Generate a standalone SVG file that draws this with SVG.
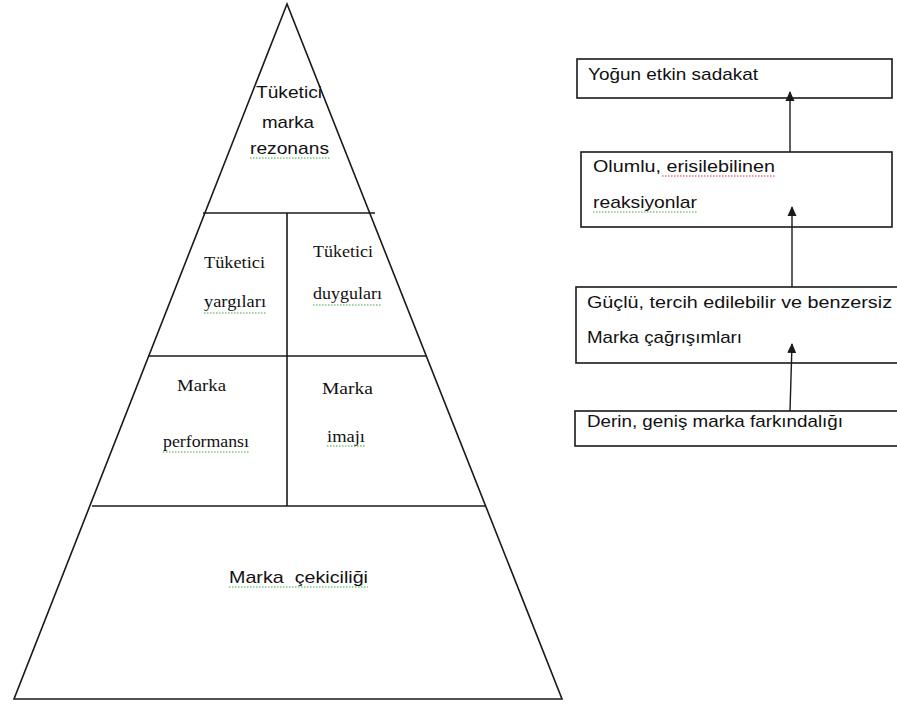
<svg xmlns="http://www.w3.org/2000/svg" width="897" height="704" viewBox="0 0 897 704">
  <style>
    .edge { fill: none; stroke: #1a1a1a; stroke-width: 1.6; }
    .box { fill: #ffffff; stroke: #1a1a1a; stroke-width: 1.6; }
    .sans { font-family: "Liberation Sans", Arial, sans-serif; fill: #111111; font-size: 17px; }
    .serif { font-family: "Liberation Serif", "Times New Roman", serif; fill: #111111; font-size: 17px; }
    .wavy-g { fill: none; stroke: #3aa63a; stroke-width: 1.2; stroke-dasharray: 1.5 1.5; }
    .wavy-r { fill: none; stroke: #e03030; stroke-width: 1.2; stroke-dasharray: 1.5 1.5; }
    .link { fill: none; stroke: #1a1a1a; stroke-width: 1.4; }
  </style>
  <defs>
    <marker id="arrow" viewBox="0 0 10 10" refX="9" refY="5" markerWidth="10" markerHeight="10" markerUnits="userSpaceOnUse" orient="auto">
      <path d="M0,0.5 L10,5 L0,9.5 Z" fill="#1a1a1a"/>
    </marker>
  </defs>
  <rect width="897" height="704" fill="#ffffff"/>

  <!-- Pyramid outline and tiers -->
  <g id="pyramid">
    <path class="edge" d="M287,4 L14,699 L562,699 Z"/>
    <line class="edge" x1="203" y1="213" x2="375" y2="213"/>
    <line class="edge" x1="148" y1="356" x2="427" y2="356"/>
    <line class="edge" x1="92" y1="506" x2="485" y2="506"/>
    <line class="edge" x1="287" y1="213" x2="287" y2="506"/>
  </g>

  <g id="tier-resonance">
    <text class="sans" x="256" y="98" textLength="66" lengthAdjust="spacingAndGlyphs">Tüketici</text>
    <text class="sans" x="262" y="128" textLength="52" lengthAdjust="spacingAndGlyphs">marka</text>
    <text class="sans" x="250" y="154" textLength="79" lengthAdjust="spacingAndGlyphs">rezonans</text>
    <path class="wavy-g" d="M250,158 L330,158"/>
  </g>

  <g id="tier-judgements">
    <text class="serif" x="204" y="268" textLength="61" lengthAdjust="spacingAndGlyphs">Tüketici</text>
    <text class="serif" x="204" y="307" textLength="62" lengthAdjust="spacingAndGlyphs">yargıları</text>
    <path class="wavy-g" d="M204,313 L266,313"/>
  </g>

  <g id="tier-feelings">
    <text class="serif" x="313" y="257" textLength="60" lengthAdjust="spacingAndGlyphs">Tüketici</text>
    <text class="serif" x="313" y="299" textLength="69" lengthAdjust="spacingAndGlyphs">duyguları</text>
    <path class="wavy-g" d="M313,305 L382,305"/>
  </g>

  <g id="tier-performance">
    <text class="serif" x="177" y="391" textLength="49" lengthAdjust="spacingAndGlyphs">Marka</text>
    <text class="serif" x="163" y="447" textLength="86" lengthAdjust="spacingAndGlyphs">performansı</text>
    <path class="wavy-g" d="M163,452 L249,452"/>
  </g>

  <g id="tier-imagery">
    <text class="serif" x="322" y="394" textLength="51" lengthAdjust="spacingAndGlyphs" font-size="18">Marka</text>
    <text class="serif" x="327" y="442" textLength="38" lengthAdjust="spacingAndGlyphs" font-size="18">imajı</text>
    <path class="wavy-g" d="M327,446 L365,446"/>
  </g>

  <g id="tier-salience">
    <text class="sans" x="229" y="583" textLength="139" lengthAdjust="spacingAndGlyphs" xml:space="preserve">Marka  çekiciliği</text>
    <path class="wavy-g" d="M229,587 L368,587"/>
  </g>

  <!-- Stage boxes -->
  <g id="stage-loyalty">
    <rect class="box" x="577" y="59" width="315" height="39"/>
    <text class="sans" x="588" y="80" textLength="170" lengthAdjust="spacingAndGlyphs">Yoğun etkin sadakat</text>
  </g>

  <g id="stage-reactions">
    <rect class="box" x="581" y="152" width="311" height="75"/>
    <text class="sans" x="593" y="172" textLength="182" lengthAdjust="spacingAndGlyphs">Olumlu, erisilebilinen</text>
    <path class="wavy-r" d="M662,176 L775,176"/>
    <text class="sans" x="593" y="208" textLength="104" lengthAdjust="spacingAndGlyphs">reaksiyonlar</text>
    <path class="wavy-g" d="M593,212 L697,212"/>
  </g>

  <g id="stage-associations">
    <rect class="box" x="576" y="287" width="330" height="76"/>
    <text class="sans" x="587" y="308" textLength="305" lengthAdjust="spacingAndGlyphs">Güçlü, tercih edilebilir ve benzersiz</text>
    <text class="sans" x="587" y="343" textLength="155" lengthAdjust="spacingAndGlyphs">Marka çağrışımları</text>
  </g>

  <g id="stage-awareness">
    <rect class="box" x="575" y="411" width="331" height="35"/>
    <text class="sans" x="587" y="427" textLength="256" lengthAdjust="spacingAndGlyphs">Derin, geniş marka farkındalığı</text>
  </g>

  <!-- Upward connectors -->
  <g id="connectors">
    <line class="link" x1="790" y1="152" x2="790" y2="92" marker-end="url(#arrow)"/>
    <line class="link" x1="792" y1="287" x2="792" y2="207" marker-end="url(#arrow)"/>
    <line class="link" x1="790" y1="411" x2="792" y2="344" marker-end="url(#arrow)"/>
  </g>
</svg>
